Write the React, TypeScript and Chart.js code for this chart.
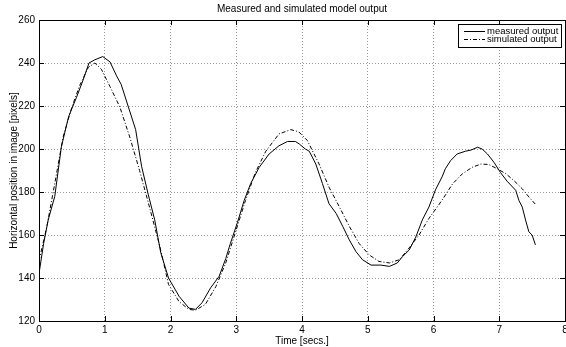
import { useEffect, useRef } from "react";
import { Chart, registerables } from "chart.js";

Chart.register(...registerables);

const chartTitle = "Measured and simulated model output";
const xAxisTitle = "Time [secs.]";
const yAxisTitle = "Horizontal position in image [pixels]";
const measuredLabel = "measured output";
const simulatedLabel = "simulated output";

const measuredTime = [
  0.0, 0.07, 0.14, 0.24, 0.34, 0.45, 0.57, 0.67, 0.76, 0.85, 0.97, 1.08, 1.18, 1.25, 1.36, 1.47,
  1.56, 1.66, 1.76, 1.85, 1.97, 2.13, 2.28, 2.38, 2.48, 2.61, 2.74, 2.84, 2.91, 3.02, 3.12, 3.22,
  3.35, 3.5, 3.65, 3.78, 3.9, 3.96, 4.05, 4.11, 4.21, 4.31, 4.41, 4.52, 4.62, 4.72, 4.82, 4.92,
  5.05, 5.2, 5.33, 5.45, 5.53, 5.63, 5.73, 5.83, 5.93, 6.03, 6.13, 6.18, 6.26, 6.36, 6.49, 6.57,
  6.67, 6.74, 6.82, 6.92, 7.02, 7.12, 7.25, 7.3, 7.35, 7.4, 7.45, 7.5, 7.55,
];
const measuredValue = [
  142, 156, 167, 178, 201, 215, 224, 232, 240, 241.5, 243, 240.5, 234, 230, 219.5, 209,
  192, 179, 167, 152, 140, 131.5, 126, 125.4, 128.5, 135.4, 140.8, 149, 156, 166, 176, 184,
  191.5, 197.7, 201.5, 203.5, 203.5, 202.3, 200, 199, 193, 184, 174.6, 170, 164, 157.7, 152.3, 148.5,
  146, 146, 145.4, 147, 150, 153, 159, 167, 173, 181, 187, 190.8, 194.6, 197.7, 199, 199.5,
  200.8, 200, 197.7, 193.8, 189, 185, 180.8, 176, 173, 167, 161.5, 160, 155.4,
];

const simulatedTime = [
  0.0, 0.12, 0.24, 0.37, 0.5, 0.62, 0.75, 0.85, 0.95, 1.08, 1.23, 1.38, 1.53, 1.68, 1.84, 1.97,
  2.13, 2.28, 2.38, 2.53, 2.69, 2.84, 2.99, 3.14, 3.29, 3.45, 3.65, 3.83, 3.95, 4.08, 4.26, 4.41,
  4.57, 4.72, 4.87, 5.02, 5.17, 5.33, 5.48, 5.63, 5.78, 5.93, 6.08, 6.19, 6.29, 6.44, 6.59, 6.72,
  6.84, 6.97, 7.1, 7.22, 7.35, 7.45, 7.55,
];
const simulatedValue = [
  148, 164, 184, 206, 219.5, 229.6, 238, 240, 237, 229, 219.5, 205.6, 190, 173, 154.4, 137,
  129, 125.4, 125, 127.7, 136, 147, 161.5, 176, 189, 199, 207, 209, 208, 204, 193, 182.3,
  173, 164, 156, 150.8, 147.7, 147, 148.5, 154, 160, 167.7, 174, 179, 183.8, 188.5, 191.5, 193,
  192.8, 190.8, 188.5, 185.4, 181.5, 177.7, 174.3,
];

const xMin = 0;
const xMax = 8;
const xStep = 1;
const yMin = 120;
const yMax = 260;
const yStep = 20;

const FONT = '"Liberation Sans", Arial, Helvetica, sans-serif';

const framePlugin = {
  id: "matlabFrame",
  afterDraw(chart: any) {
    const { ctx, chartArea: a, scales } = chart;
    ctx.save();
    ctx.strokeStyle = "#000";
    ctx.lineWidth = 1;
    ctx.setLineDash([]);
    ctx.strokeRect(a.left + 0.5, a.top + 0.5, a.right - a.left, a.bottom - a.top);
    const tl = 5;
    ctx.beginPath();
    for (let v = xMin; v <= xMax; v += xStep) {
      const px = Math.round(scales.x.getPixelForValue(v)) + 0.5;
      ctx.moveTo(px, a.bottom);
      ctx.lineTo(px, a.bottom - tl);
      ctx.moveTo(px, a.top);
      ctx.lineTo(px, a.top + tl);
    }
    for (let v = yMin; v <= yMax; v += yStep) {
      const py = Math.round(scales.y.getPixelForValue(v)) + 0.5;
      ctx.moveTo(a.left, py);
      ctx.lineTo(a.left + tl, py);
      ctx.moveTo(a.right, py);
      ctx.lineTo(a.right - tl, py);
    }
    ctx.stroke();

    // legend box
    const bx = 458.5, by = 24.5, bw = 103, bh = 23;
    ctx.fillStyle = "#fff";
    ctx.fillRect(bx, by, bw, bh);
    ctx.strokeRect(bx, by, bw, bh);
    ctx.font = `9.5px ${FONT}`;
    ctx.textBaseline = "middle";
    ctx.textAlign = "left";
    chart.data.datasets.forEach((ds: any, i: number) => {
      const y = 31.5 + i * 8;
      ctx.beginPath();
      ctx.setLineDash(ds.borderDash || []);
      ctx.strokeStyle = ds.borderColor;
      ctx.lineWidth = 1;
      ctx.moveTo(464, y);
      ctx.lineTo(485, y);
      ctx.stroke();
      ctx.setLineDash([]);
      ctx.fillStyle = "#000";
      ctx.fillText(ds.label, 487, y);
    });
    ctx.restore();
  },
};

export default function App() {
  const ref = useRef<HTMLCanvasElement | null>(null);

  useEffect(() => {
    document.body.style.margin = "0";
    const canvas = ref.current;
    if (!canvas) return;
    const chart = new Chart(canvas, {
      type: "line",
      data: {
        datasets: [
          {
            label: measuredLabel,
            data: measuredTime.map((t, i) => ({ x: t, y: measuredValue[i] })),
            borderColor: "#000",
            borderWidth: 1,
            pointRadius: 0,
            tension: 0,
            fill: false,
          },
          {
            label: simulatedLabel,
            data: simulatedTime.map((t, i) => ({ x: t, y: simulatedValue[i] })),
            borderColor: "#000",
            borderWidth: 1,
            borderDash: [4, 2, 1, 2],
            pointRadius: 0,
            tension: 0,
            fill: false,
          },
        ],
      },
      options: {
        animation: false,
        responsive: false,
        devicePixelRatio: 1,
        layout: { padding: { left: 0, right: 35, top: 0, bottom: 0 } },
        plugins: {
          legend: { display: false },
          tooltip: { enabled: false },
          title: {
            display: true,
            text: chartTitle,
            fullSize: false,
            color: "#000",
            font: { family: FONT, size: 10, weight: "normal" },
            padding: { top: 3, bottom: 5 },
          },
        },
        scales: {
          x: {
            type: "linear",
            min: xMin,
            max: xMax,
            ticks: {
              stepSize: xStep,
              color: "#000",
              font: { family: FONT, size: 10 },
              padding: 3,
              maxRotation: 0,
            },
            grid: { color: "rgba(0,0,0,0.4)", drawTicks: false, lineWidth: 1 },
            border: { display: false, dash: [1, 2] },
            title: {
              display: true,
              text: xAxisTitle,
              color: "#000",
              font: { family: FONT, size: 10 },
              padding: { top: 0, bottom: 0 },
            },
            afterFit(scale: any) {
              scale.height = 26;
            },
          },
          y: {
            type: "linear",
            min: yMin,
            max: yMax,
            ticks: {
              stepSize: yStep,
              color: "#000",
              font: { family: FONT, size: 10 },
              padding: 4,
            },
            grid: { color: "rgba(0,0,0,0.4)", drawTicks: false, lineWidth: 1 },
            border: { display: false, dash: [1, 2] },
            title: {
              display: true,
              text: yAxisTitle,
              color: "#000",
              font: { family: FONT, size: 10 },
              padding: { top: 8, bottom: 0 },
            },
            afterFit(scale: any) {
              scale.width = 39;
            },
          },
        },
      },
      plugins: [framePlugin],
    } as any);
    return () => chart.destroy();
  }, []);

  return (
    <div style={{ position: "absolute", left: 0, top: 0, width: 566, height: 347, overflow: "hidden", background: "#fff" }}>
      <canvas ref={ref} width={600} height={347} style={{ display: "block", width: 600, height: 347 }} />
    </div>
  );
}
